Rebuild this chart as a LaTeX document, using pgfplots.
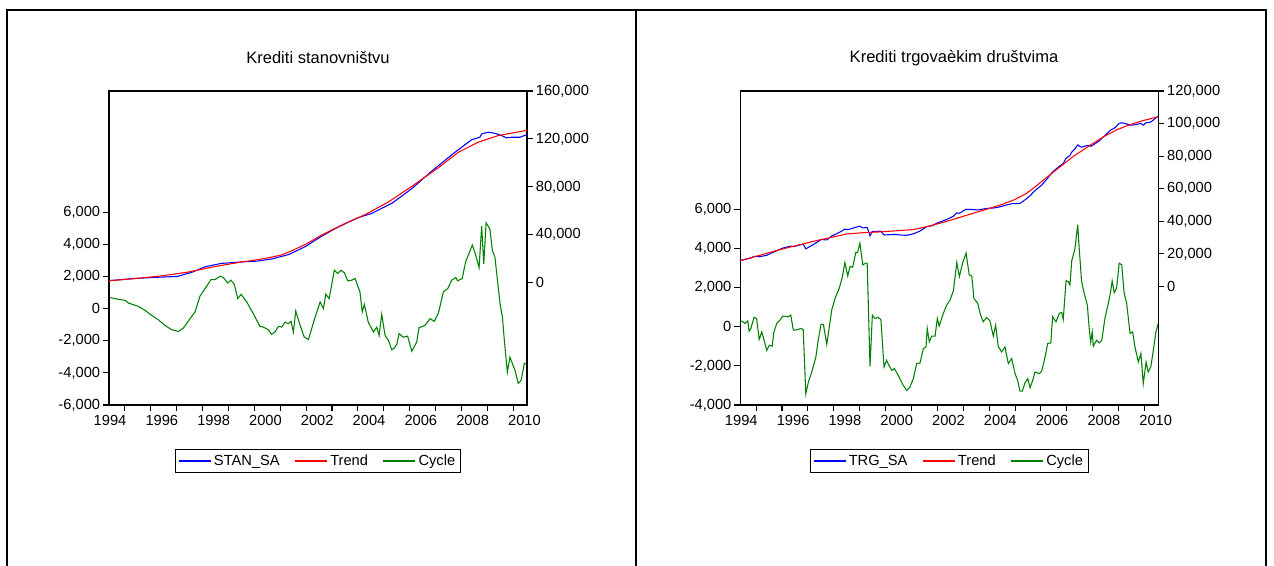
\documentclass[border=0pt]{standalone}
\usepackage{fontspec}
\setmainfont{Liberation Sans}
\usepackage{pgfplots}
\pgfplotsset{compat=1.18}
\definecolor{evgreen}{RGB}{0,128,0}
\pgfplotsset{
  evbase/.style={
    scale only axis, width=313.5pt, height=235.5pt,
    xmin=1993.96, xmax=2010.10,
    axis line style={line width=0.8pt},
    every tick/.style={line width=0.8pt, black},
    tick align=outside, major tick length=4.5pt,
    tick label style={font=\fontsize{11}{13}\selectfont},
    scaled y ticks=false, scaled x ticks=false,
    yticklabel style={inner sep=2pt},
  },
  evcyc/.style={
    evbase,
    ytick pos=left, xtick pos=bottom,
    xtick={1994.57,1995.57,1996.57,1997.57,1998.57,1999.57,2000.57,2001.57,2002.57,2003.57,2004.57,2005.57,2006.57,2007.57,2008.57,2009.57},
    xticklabels={},
    extra x ticks={1994,1996,1998,2000,2002,2004,2006,2008,2010},
    extra x tick labels={1994,1996,1998,2000,2002,2004,2006,2008,2010},
    extra x tick style={major tick length=0pt, xticklabel style={yshift=-4.5pt}},
  },
  evlev/.style={
    evbase,
    axis y line*=right, hide x axis,
    legend style={at={(0.5,-0.178)}, anchor=center, legend columns=3,
      draw=black, line width=0.8pt, font=\fontsize{11}{13}\selectfont,
      inner sep=2pt,
      /tikz/every even column/.append style={column sep=9pt}},
    legend image code/.code={\draw[line width=0.9pt] (0pt,0pt) -- (24pt,0pt);},
  },
}
\begin{document}
\begin{tikzpicture}
\useasboundingbox (0,0) rectangle (955.5pt,-423.75pt);
\clip (0,0) rectangle (955.5pt,-423.75pt);
\draw[line width=1.2pt] (5.25pt,-440pt) -- (5.25pt,-7.5pt) -- (949.5pt,-7.5pt) -- (949.5pt,-440pt);
\draw[line width=1.2pt] (477pt,-7.5pt) -- (477pt,-440pt);
\node[font=\fontsize{12.4}{14}\selectfont] at (238.5pt,-43.5pt) {Krediti stanovništvu};
\node[font=\fontsize{12.4}{14}\selectfont] at (715.5pt,-43.5pt) {Krediti trgovaèkim društvima};

% ---------------- left panel ----------------
\begin{axis}[evcyc, at={(81.75pt,-303.75pt)}, anchor=south west,
  ymin=-6000, ymax=13550, ytick={-6000,-4000,-2000,0,2000,4000,6000},
  yticklabels={{-6,000},{-4,000},{-2,000},0,{2,000},{4,000},{6,000}}]
\addplot[evgreen, line width=0.8pt] table {
1994.00 687
1994.39 560
1994.58 520
1994.71 350
1995.09 144
1995.35 -106
1995.61 -420
1995.86 -690
1996.12 -1040
1996.38 -1310
1996.64 -1420
1996.83 -1210
1997.09 -625
1997.28 -210
1997.47 770
1997.67 1250
1997.90 1810
1998.05 1810
1998.25 2020
1998.37 1940
1998.54 1600
1998.67 1770
1998.80 1500
1998.93 625
1999.06 890
1999.28 410
1999.53 -310
1999.79 -1100
1999.92 -1150
2000.11 -1310
2000.24 -1600
2000.37 -1460
2000.50 -1100
2000.63 -1150
2000.76 -840
2000.88 -940
2000.99 -790
2001.08 -1460
2001.17 -150
2001.34 -1040
2001.50 -1775
2001.66 -1920
2001.92 -525
2002.11 410
2002.24 0
2002.33 890
2002.46 625
2002.66 2390
2002.79 2190
2002.92 2390
2003.05 2230
2003.18 1730
2003.33 1770
2003.46 1875
2003.65 1040
2003.74 -210
2003.82 270
2003.97 -840
2004.17 -1460
2004.30 -1150
2004.39 -1670
2004.49 -356
2004.62 -1670
2004.75 -1980
2004.88 -2560
2004.98 -2440
2005.07 -2230
2005.16 -1560
2005.32 -1775
2005.49 -1710
2005.65 -2650
2005.84 -2090
2005.93 -1190
2006.16 -1040
2006.36 -625
2006.52 -790
2006.68 -275
2006.87 1040
2007.04 1250
2007.19 1770
2007.35 1940
2007.42 1730
2007.60 1875
2007.73 2910
2007.86 3440
2007.99 3960
2008.12 3330
2008.25 2560
2008.35 5140
2008.43 2770
2008.52 5350
2008.67 4940
2008.76 3640
2008.86 3225
2009.06 310
2009.15 -525
2009.22 -1875
2009.34 -3960
2009.44 -3025
2009.53 -3400
2009.64 -3860
2009.76 -4650
2009.87 -4480
2010.00 -3400
2010.09 -3440
};
\end{axis}
\begin{axis}[evlev, at={(81.75pt,-303.75pt)}, anchor=south west,
  ymin=-102100, ymax=160000, ytick={0,40000,80000,120000,160000},
  yticklabels={0,{40,000},{80,000},{120,000},{160,000}}]
\addplot[blue, line width=0.8pt] table {
1993.96 1700
1995.00 3600
1996.00 4700
1996.60 5200
1997.20 9000
1997.67 13300
1998.30 16100
1999.20 17500
1999.70 18000
2000.24 19800
2000.90 23500
2001.53 30000
2002.17 38800
2002.70 45200
2003.20 50500
2003.60 54400
2004.10 57800
2004.90 66500
2005.65 78500
2006.42 93100
2007.32 108900
2007.96 119300
2008.28 121400
2008.35 124200
2008.60 125600
2008.86 124700
2009.12 122800
2009.31 120900
2009.50 121400
2009.83 121400
2010.10 123700
};
\addlegendentry{STAN\_SA}
\addplot[red, line width=0.8pt] table {
1993.96 1600
1995.00 3500
1996.00 5700
1997.00 8800
1998.00 13300
1999.00 17000
1999.60 18900
2000.00 20300
2000.60 23000
2001.00 26500
2001.53 31800
2002.17 39700
2003.07 49400
2003.85 56800
2004.75 67400
2005.65 80400
2006.68 96000
2007.45 108900
2008.22 117300
2008.99 122800
2010.10 127200
};
\addlegendentry{Trend}
\addlegendimage{evgreen, line width=0.8pt}
\addlegendentry{Cycle}
\end{axis}

% ---------------- right panel ----------------
\begin{axis}[evcyc, at={(555.2pt,-303.75pt)}, anchor=south west,
  ymin=-4000, ymax=12070, ytick={-4000,-2000,0,2000,4000,6000},
  yticklabels={{-4,000},{-2,000},0,{2,000},{4,000},{6,000}}]
\addplot[evgreen, line width=0.8pt] table {
1994.00 308
1994.14 175
1994.25 308
1994.30 -221
1994.37 -82
1994.49 483
1994.59 432
1994.69 -648
1994.79 -257
1994.88 -684
1994.98 -1198
1995.08 -941
1995.19 -992
1995.26 -257
1995.37 175
1995.49 344
1995.60 550
1995.81 514
1995.91 601
1996.01 -170
1996.20 -134
1996.29 -82
1996.39 -134
1996.49 -3423
1996.59 -2827
1996.72 -2313
1996.88 -1542
1996.97 -684
1997.08 139
1997.17 123
1997.30 -889
1997.39 -82
1997.49 858
1997.62 1460
1997.78 1974
1997.90 2539
1998.00 3290
1998.11 2606
1998.20 3084
1998.30 3053
1998.42 3804
1998.49 3804
1998.58 4287
1998.69 3171
1998.80 3259
1998.86 3259
1998.97 -2020
1999.06 601
1999.16 432
1999.27 483
1999.39 380
1999.51 -2056
1999.61 -1712
1999.70 -1969
1999.81 -2226
1999.91 -2138
2000.06 -2483
2000.23 -2945
2000.39 -3254
2000.51 -3084
2000.64 -2652
2000.77 -1881
2000.90 -1850
2001.03 -1110
2001.13 -1028
2001.18 -82
2001.26 -771
2001.35 -478
2001.48 -478
2001.57 432
2001.64 36
2001.80 689
2001.93 1115
2002.06 1372
2002.19 1850
2002.32 3290
2002.42 2570
2002.55 3290
2002.68 3773
2002.80 2657
2002.90 2606
2002.98 1460
2003.13 1203
2003.22 689
2003.34 257
2003.47 483
2003.60 308
2003.73 -478
2003.82 87
2003.92 -992
2004.05 -1285
2004.18 -1028
2004.31 -1881
2004.44 -1624
2004.57 -2395
2004.67 -2740
2004.76 -3290
2004.85 -3290
2004.95 -2878
2005.06 -2652
2005.15 -3115
2005.25 -2740
2005.34 -2313
2005.51 -2395
2005.60 -2262
2005.73 -1542
2005.83 -853
2005.95 -822
2006.02 514
2006.15 257
2006.28 689
2006.37 740
2006.43 380
2006.54 2364
2006.63 2313
2006.69 2143
2006.76 3392
2006.88 3978
2006.99 5227
2007.05 3942
2007.14 2313
2007.24 1717
2007.36 1115
2007.44 -170
2007.49 -771
2007.55 -257
2007.59 -992
2007.72 -684
2007.82 -822
2007.92 -684
2008.04 432
2008.17 1203
2008.26 1799
2008.32 2349
2008.40 1748
2008.49 1974
2008.59 3259
2008.69 3171
2008.78 1748
2008.88 1203
2009.01 -339
2009.11 -257
2009.20 -1028
2009.33 -1799
2009.43 -1367
2009.52 -2909
2009.63 -1799
2009.71 -2313
2009.81 -2056
2009.91 -1198
2010.01 -257
2010.10 175
};
\end{axis}
\begin{axis}[evlev, at={(555.2pt,-303.75pt)}, anchor=south west,
  ymin=-72800, ymax=120000, ytick={0,20000,40000,60000,80000,100000,120000},
  yticklabels={0,{20,000},{40,000},{60,000},{80,000},{100,000},{120,000}}]
\addplot[blue, line width=0.8pt] table {
1993.96 16000
1994.37 17400
1994.49 18500
1994.69 18250
1994.98 19100
1995.26 21250
1995.60 23550
1995.91 24800
1996.01 24450
1996.39 25950
1996.49 23100
1996.72 25150
1996.97 27600
1997.08 28850
1997.30 28550
1997.49 30950
1997.78 33100
1998.00 35250
1998.11 34850
1998.42 36350
1998.58 37000
1998.69 35950
1998.86 36250
1998.97 31100
1999.06 33800
1999.39 33900
1999.51 31600
1999.91 31950
2000.23 31500
2000.39 31400
2000.64 32250
2000.90 34050
2001.18 36900
2001.35 37200
2001.57 39000
2001.93 41100
2002.19 43100
2002.32 45200
2002.42 44900
2002.68 47400
2002.90 47250
2003.13 46950
2003.47 47900
2003.73 48150
2003.92 48600
2004.18 49800
2004.44 50800
2004.76 51000
2004.95 53100
2005.15 55700
2005.34 58850
2005.60 62200
2005.83 66550
2006.02 70300
2006.28 73800
2006.43 75400
2006.54 78750
2006.69 80400
2006.76 82500
2006.88 84500
2006.99 86900
2007.05 86200
2007.14 85500
2007.24 86000
2007.36 86600
2007.44 86200
2007.49 86100
2007.59 86900
2007.82 89400
2008.04 92750
2008.26 96000
2008.40 97150
2008.59 100050
2008.69 100550
2008.88 99800
2009.01 99000
2009.20 99250
2009.43 100100
2009.52 99000
2009.63 100500
2009.81 100950
2009.91 102200
2010.01 103600
2010.10 104400
};
\addlegendentry{TRG\_SA}
\addplot[red, line width=0.8pt] table {
1993.96 15800
1995.49 22600
1996.78 27700
1998.07 32200
1998.70 33000
1999.36 33500
2000.64 34900
2001.30 37200
2001.93 40000
2003.22 46200
2004.00 50000
2004.51 53000
2005.00 57000
2005.41 62000
2005.93 68700
2006.83 80000
2007.50 87000
2008.00 92000
2008.50 96200
2009.00 99300
2009.50 101800
2010.10 104200
};
\addlegendentry{Trend}
\addlegendimage{evgreen, line width=0.8pt}
\addlegendentry{Cycle}
\end{axis}
\end{tikzpicture}
\end{document}
